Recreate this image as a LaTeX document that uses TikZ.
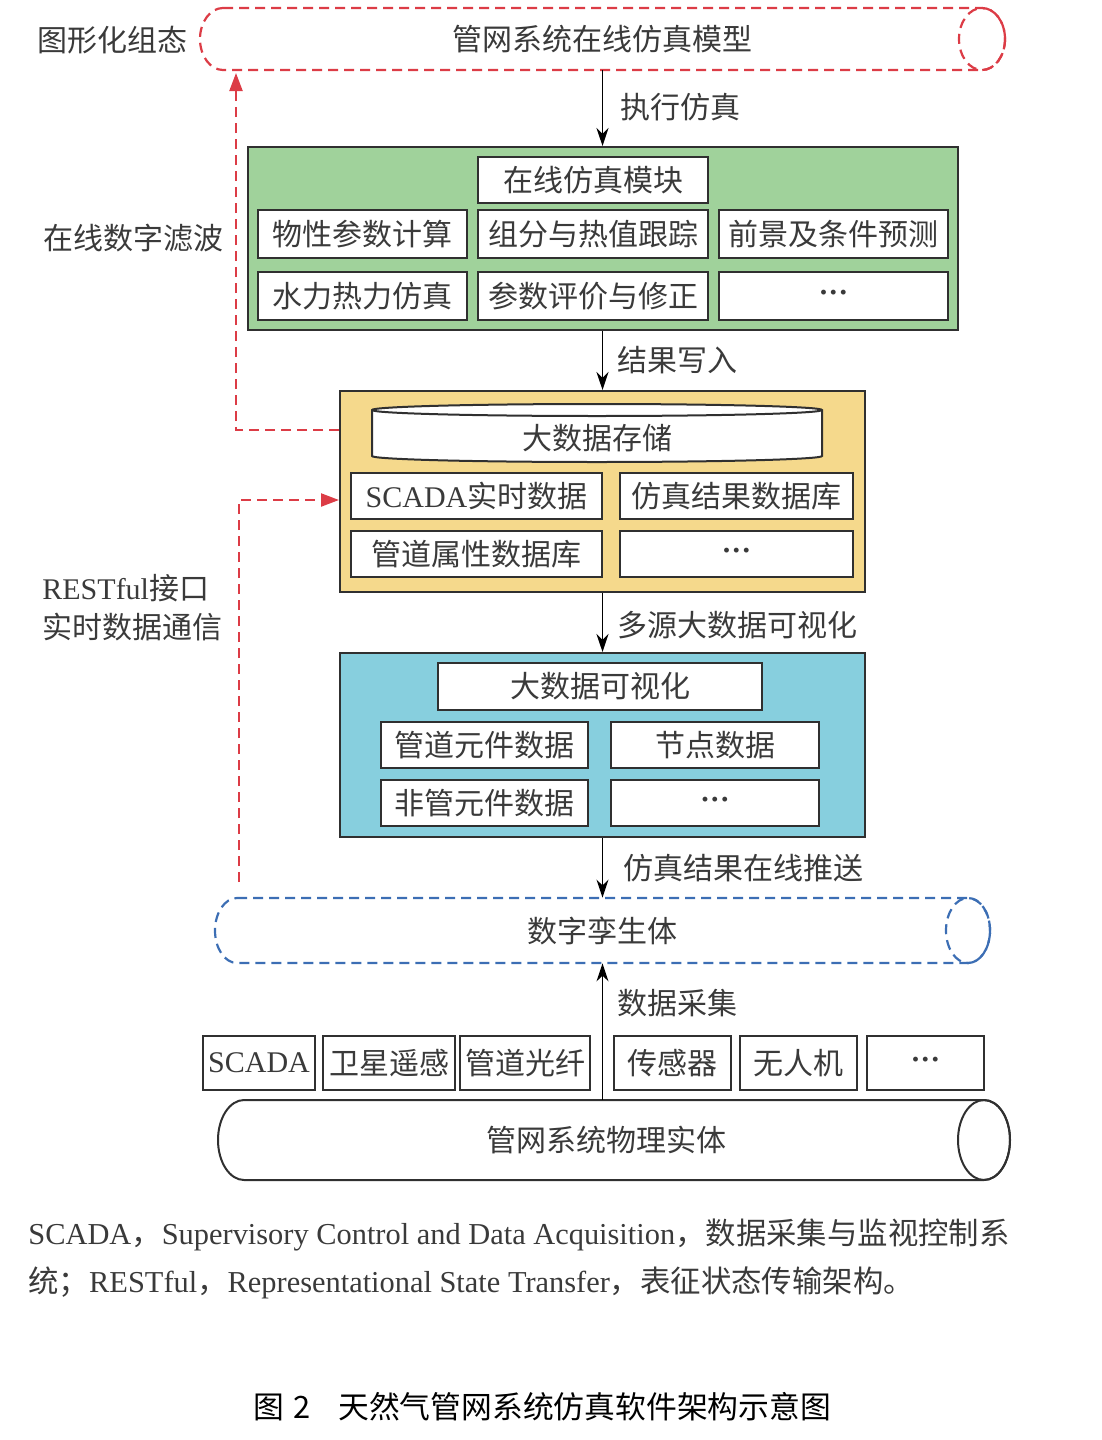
\documentclass[tikz,border=0pt]{standalone}
\usepackage{fontspec}
\setmainfont{Liberation Serif}
\newfontfamily\cjk{Noto Sans CJK SC}
\usetikzlibrary{arrows.meta,calc}
\definecolor{gfill}{HTML}{A0D29B}
\definecolor{yfill}{HTML}{F5D98C}
\definecolor{bfill}{HTML}{87CFDE}
\definecolor{rdash}{HTML}{DC3C46}
\definecolor{bdash}{HTML}{3C6EB4}
\definecolor{tgray}{HTML}{3A3A3A}
\definecolor{lgray}{HTML}{303030}
\newcommand\mydots{{\rmfamily\bfseries ···}}
\begin{document}
\begin{tikzpicture}[x=0.5pt,y=-0.5pt,
  txt/.style={font=\cjk\fontsize{15}{18}\selectfont, text=tgray, inner sep=0pt},
  sz/.style 2 args={minimum width=#1*0.5pt, minimum height=#2*0.5pt},
  wbox/.style={txt, draw=lgray, line width=1pt, fill=white},
  panel/.style={draw=lgray, line width=1pt, inner sep=0pt},
  reddash/.style={draw=rdash, line width=1.1pt, dash pattern=on 5pt off 3pt},
  bluedash/.style={draw=bdash, line width=1.1pt, dash pattern=on 5pt off 3pt},
  arr/.style={draw=black, line width=0.8pt, -{Stealth[length=9pt,width=6pt]}},
  rarr/.style={reddash, -{Triangle[length=9pt,width=6.5pt]}},
  lbl/.style={txt}]
\useasboundingbox (0,0) rectangle (1102,1440);

% ---------- top dashed cylinder ----------
\draw[reddash, fill=white] (223,8) -- (982,8)
  arc[start angle=90,end angle=-90,x radius=11.5pt,y radius=15.5pt]
  -- (223,70)
  arc[start angle=270,end angle=90,x radius=11.5pt,y radius=15.5pt] -- cycle;
\draw[reddash] (982,39) ellipse[x radius=11.5pt,y radius=15.5pt];
\node[txt, sz={805}{62}] (model) at (602.5,39) {管网系统在线仿真模型};
\node[lbl] (lgraph) at (112,40) {图形化组态};

% ---------- green panel ----------
\node[panel, fill=gfill, sz={710}{183}] (green) at (603,238.5) {};
\node[wbox, sz={230}{46}] (gtop) at (593,180) {在线仿真模块};
\node[wbox, sz={209}{48}] (g11) at (362.5,234) {物性参数计算};
\node[wbox, sz={230}{48}] (g12) at (593,234) {组分与热值跟踪};
\node[wbox, sz={229}{48}] (g13) at (833.5,234) {前景及条件预测};
\node[wbox, sz={209}{48}] (g21) at (362.5,296) {水力热力仿真};
\node[wbox, sz={230}{48}] (g22) at (593,296) {参数评价与修正};
\node[wbox, sz={229}{48}] (g23) at (833.5,296) {\mydots};

\draw[arr] (model.south) -- (model.south |- green.north);
\node[lbl] (l1) at (680,107) {执行仿真};

% ---------- yellow panel ----------
\node[panel, fill=yfill, sz={525}{201}] (yellow) at (602.5,491.5) {};
\filldraw[draw=lgray, line width=1pt, fill=white]
  (372,410) -- (372,456)
  arc[start angle=180,end angle=360,x radius=112.5pt,y radius=3pt]
  -- (822,410)
  arc[start angle=0,end angle=180,x radius=112.5pt,y radius=3pt] -- cycle;
\draw[lgray, line width=1pt] (372,410)
  arc[start angle=180,end angle=360,x radius=112.5pt,y radius=3pt];
\node[txt, sz={450}{50}] (db) at (597,438) {大数据存储};
\node[wbox, sz={251}{46}] (y11) at (476.5,496) {{\rmfamily SCADA}实时数据};
\node[wbox, sz={233}{46}] (y12) at (736.5,496) {仿真结果数据库};
\node[wbox, sz={251}{46}] (y21) at (476.5,554) {管道属性数据库};
\node[wbox, sz={233}{46}] (y22) at (736.5,554) {\mydots};

\draw[arr] (green.south -| model.south) -- (model.south |- yellow.north);
\node[lbl] (l2) at (677,360) {结果写入};

% ---------- blue panel ----------
\node[panel, fill=bfill, sz={525}{184}] (blue) at (602.5,745) {};
\node[wbox, sz={324}{47}] (btop) at (600,686.5) {大数据可视化};
\node[wbox, sz={207}{46}] (b11) at (484.5,745) {管道元件数据};
\node[wbox, sz={208}{46}] (b12) at (715,745) {节点数据};
\node[wbox, sz={207}{46}] (b21) at (484.5,803) {非管元件数据};
\node[wbox, sz={208}{46}] (b22) at (715,803) {\mydots};

\draw[arr] (yellow.south -| model.south) -- (model.south |- blue.north);
\node[lbl] (l3) at (737,625) {多源大数据可视化};

% ---------- digital twin cylinder ----------
\draw[bluedash, fill=white] (237,898) -- (968,898)
  arc[start angle=90,end angle=-90,x radius=11pt,y radius=16.25pt]
  -- (237,963)
  arc[start angle=270,end angle=90,x radius=11pt,y radius=16.25pt] -- cycle;
\draw[bluedash] (968,930.5) ellipse[x radius=11pt,y radius=16.25pt];
\node[txt, sz={775}{65}] (twin) at (602.5,930.5) {数字孪生体};

\draw[arr] (blue.south -| model.south) -- (model.south |- twin.north);
\node[lbl] (l4) at (743,868) {仿真结果在线推送};

% ---------- sources ----------
\node[wbox, sz={112}{54}] (s1) at (259,1063) {\rmfamily SCADA};
\node[wbox, sz={132}{54}] (s2) at (389,1063) {卫星遥感};
\node[wbox, sz={130}{54}] (s3) at (525,1063) {管道光纤};
\node[wbox, sz={117}{54}] (s4) at (672.5,1063) {传感器};
\node[wbox, sz={117}{54}] (s5) at (798.5,1063) {无人机};
\node[wbox, sz={117}{54}] (s6) at (925.5,1063) {\mydots};

% ---------- physical pipe ----------
\draw[lgray, line width=1pt, fill=white] (244,1100) -- (984,1100)
  arc[start angle=90,end angle=-90,x radius=13pt,y radius=20pt]
  -- (244,1180)
  arc[start angle=270,end angle=90,x radius=13pt,y radius=20pt] -- cycle;
\draw[lgray, line width=1pt] (984,1140) ellipse[x radius=13pt,y radius=20pt];
\node[txt, sz={792}{80}] (pipe) at (606,1140) {管网系统物理实体};

\draw[arr] (model.south |- pipe.north) -- (model.south |- twin.south);
\node[lbl] (l5) at (677,1003) {数据采集};

% ---------- red feedback lines ----------
\coordinate (f1) at (236,430);
\coordinate (f1top) at (236,73);
\draw[rarr] (f1 -| yellow.west) -- (f1) -- (f1top);
\node[lbl] (lfilt) at (133,238) {在线数字滤波};

\coordinate (f2) at (239,500);
\coordinate (f2bot) at (239,882);
\draw[rarr] (f2bot) -- (f2) -- (f2 -| yellow.west);
\node[lbl, anchor=west] (lrest1) at (42,588) {{\rmfamily RESTful}接口};
\node[lbl, anchor=west] (lrest2) at (42,627) {实时数据通信};

% ---------- notes ----------
\node[lbl, anchor=west, font=\cjk\fontsize{15.2}{18}\selectfont] (note1) at (28,1235) {{\rmfamily SCADA}，{\rmfamily Supervisory Control and Data Acquisition}，数据采集与监视控制系};
\node[lbl, anchor=west, font=\cjk\fontsize{15.2}{18}\selectfont] (note2) at (28,1283) {统；{\rmfamily RESTful}，{\rmfamily Representational State Transfer}，表征状态传输架构。};
\node[txt, text=black, anchor=west, font=\cjk\fontsize{15.4}{18}\selectfont] (title) at (253,1407) {图\hspace{4.5pt}2\hspace{14pt}天然气管网系统仿真软件架构示意图};
\end{tikzpicture}
\end{document}
